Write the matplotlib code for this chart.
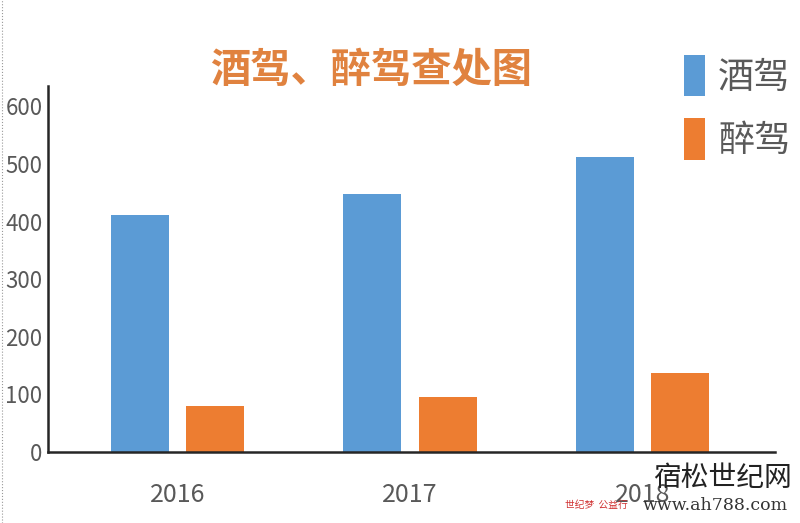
import matplotlib.pyplot as plt
import numpy as np

plt.rcParams['font.family'] = ['Noto Sans CJK SC', 'DejaVu Sans']

years = ['2016', '2017', '2018']
jiujia = [411, 448, 512]   # 酒驾
zuijia = [80, 96, 137]     # 醉驾

blue = '#5B9BD5'
orange = '#ED7D31'

fig = plt.figure(figsize=(8, 5.23), dpi=100)
ax = fig.add_axes([0.06, 0.136, 0.909, 0.70])

x = np.arange(len(years))
w = 0.25
off = 0.162
b1 = ax.bar(x - off, jiujia, width=w, color=blue, label='酒驾')
b2 = ax.bar(x + off, zuijia, width=w, color=orange, label='醉驾')

ax.set_xlim(-0.557, 2.57)
ax.set_ylim(0, 636)
ax.set_yticks([0, 100, 200, 300, 400, 500, 600])
ax.set_xticks(x)
ax.set_xticklabels(years)
ax.tick_params(length=0, colors='#595959')
ax.tick_params(axis='x', labelsize=18, pad=22)
ax.tick_params(axis='y', labelsize=16, pad=4)
for s in ['top', 'right']:
    ax.spines[s].set_visible(False)
for s in ['left', 'bottom']:
    ax.spines[s].set_color('#262626')
    ax.spines[s].set_linewidth(1.8)

fig.text(0.464, 0.866, '酒驾、醉驾查处图', fontsize=29, fontweight='bold',
         color='#E0823F', ha='center', va='center')

leg = fig.legend(handles=[b1, b2], loc='upper left', bbox_to_anchor=(0.832, 0.93),
                 frameon=False, fontsize=26, handlelength=0.6, handleheight=1.4,
                 handletextpad=0.35, labelspacing=0.6, borderpad=0)
for t in leg.get_texts():
    t.set_color('#595959')
    t.set_fontweight('light')

# watermark
fig.text(0.903, 0.086, '宿松世纪网', fontsize=20, color='#222222', ha='center', va='center')
fig.text(0.894, 0.034, 'www.ah788.com', fontsize=12.5, color='#333333', ha='center',
         va='center', family=['DejaVu Serif', 'DejaVu Sans'])
fig.text(0.745, 0.034, '世纪梦  公益行', fontsize=7, color='#d03030', ha='center', va='center')

fig.add_artist(plt.Line2D([0.002, 0.002], [0, 1], color='#999999', lw=0.8,
                          linestyle=':', transform=fig.transFigure))

fig.savefig('out.png', dpi=100)
